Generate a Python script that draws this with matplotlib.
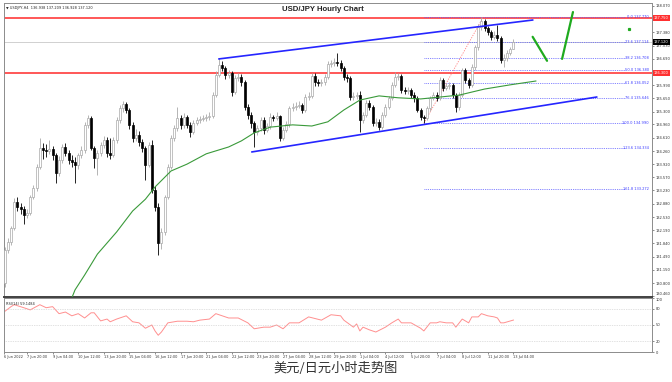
import matplotlib.pyplot as plt

plt.rcParams['font.family'] = ['DejaVu Sans']

# USDJPY H4 bars, 6 Jun 2022 16:00 .. 13 Jul 2022 04:00 (one value per bar)
closes = [
    131.67, 131.88, 132.24, 132.93, 132.80, 132.74, 132.59, 132.64, 133.06, 133.29,
    133.85, 134.34, 134.29, 134.27, 134.32, 134.16, 133.69, 134.03, 134.37, 134.21,
    134.03, 133.98, 133.90, 134.16, 134.29, 134.95, 135.13, 134.34, 134.08, 134.21,
    134.42, 134.55, 134.21, 134.16, 134.55, 135.08, 135.39, 135.50, 135.34, 134.95,
    134.61, 134.69, 134.50, 134.34, 133.90, 134.42, 133.24, 132.80, 131.85, 132.14,
    133.06, 133.85, 134.61, 134.87, 135.13, 134.95, 135.16, 134.95, 134.76, 135.00,
    135.08, 135.10, 135.13, 135.16, 135.18, 135.73, 136.26, 136.52, 136.44, 136.26,
    136.31, 135.81, 136.18, 136.21, 136.08, 135.42, 135.21, 135.00, 134.76, 134.87,
    135.08, 134.82, 134.92, 135.16, 135.14, 135.18, 134.61, 134.82, 134.97, 135.39,
    135.42, 135.45, 135.47, 135.34, 135.68, 135.70, 136.23, 136.08, 136.05, 136.08,
    136.21, 136.55, 136.57, 136.60, 136.57, 136.44, 136.21, 136.18, 135.68, 135.71,
    135.73, 135.08, 135.21, 135.52, 135.42, 135.00, 135.03, 134.89, 135.21, 135.42,
    135.66, 136.00, 136.21, 136.23, 135.87, 135.84, 135.87, 135.73, 135.66, 135.34,
    135.16, 135.13, 135.39, 135.66, 135.73, 135.66, 136.13, 135.92, 135.97, 136.00,
    135.73, 135.42, 135.73, 136.39, 136.13, 136.00, 136.47, 136.99, 137.52, 137.68,
    137.49, 137.39, 137.26, 137.31, 137.23, 136.65, 136.71, 136.84, 136.938, 137.120,
]
highs = [
    131.75, 131.98, 132.30, 133.02, 133.05, 132.90, 132.82, 132.75, 133.12, 133.38,
    133.92, 134.61, 134.48, 134.45, 134.56, 134.40, 134.22, 134.12, 134.45, 134.48,
    134.30, 134.15, 134.10, 134.22, 134.40, 135.02, 135.21, 135.17, 134.40, 134.30,
    134.50, 134.66, 134.62, 134.60, 134.62, 135.15, 135.48, 135.58, 135.55, 135.40,
    135.02, 134.85, 134.78, 134.58, 134.40, 134.50, 134.55, 133.35, 132.90, 132.25,
    133.12, 133.92, 134.68, 134.95, 135.42, 135.22, 135.25, 135.22, 135.02, 135.08,
    135.15, 135.18, 135.20, 135.24, 135.30, 135.80, 136.35, 136.71, 136.62, 136.50,
    136.40, 136.36, 136.25, 136.30, 136.28, 136.12, 135.50, 135.28, 135.05, 134.95,
    135.15, 135.15, 135.00, 135.25, 135.22, 135.28, 135.22, 134.90, 135.05, 135.45,
    135.52, 135.55, 135.58, 135.52, 135.75, 135.80, 136.30, 136.30, 136.15, 136.16,
    136.28, 136.62, 136.66, 136.70, 136.84, 136.65, 136.50, 136.28, 136.22, 135.80,
    135.82, 135.85, 135.30, 135.60, 135.60, 135.48, 135.12, 135.10, 135.28, 135.50,
    135.72, 136.08, 136.34, 136.32, 136.28, 135.95, 135.95, 135.92, 135.80, 135.72,
    135.40, 135.22, 135.45, 135.72, 135.82, 135.80, 136.20, 136.18, 136.05, 136.08,
    136.05, 135.78, 135.80, 136.45, 136.45, 136.18, 136.55, 137.05, 137.60, 137.78,
    137.72, 137.55, 137.45, 137.40, 137.57, 137.28, 136.80, 136.92, 137.00, 137.209,
]
lows = [
    130.70, 131.60, 131.80, 132.18, 132.70, 132.62, 132.35, 132.50, 132.58, 133.00,
    133.22, 133.80, 134.05, 134.10, 134.18, 134.02, 133.43, 133.62, 133.95, 134.12,
    133.92, 133.85, 133.43, 133.80, 134.08, 134.22, 134.88, 134.28, 133.82, 133.64,
    134.12, 134.35, 134.10, 134.05, 134.10, 134.48, 135.00, 135.30, 135.25, 134.85,
    134.50, 134.52, 134.40, 134.25, 133.50, 133.85, 133.15, 132.70, 131.54, 131.70,
    132.05, 133.00, 133.78, 134.52, 134.80, 134.85, 134.88, 134.88, 134.62, 134.70,
    134.95, 135.00, 135.05, 135.06, 135.08, 135.12, 135.68, 136.20, 136.35, 136.15,
    136.18, 135.72, 135.75, 136.10, 135.98, 135.35, 135.10, 134.87, 134.37, 134.68,
    134.80, 134.72, 134.75, 134.85, 135.05, 135.08, 134.52, 134.55, 134.75, 134.90,
    135.32, 135.35, 135.38, 135.25, 135.28, 135.60, 135.65, 135.98, 135.96, 135.98,
    136.00, 136.15, 136.48, 136.50, 136.50, 136.35, 136.12, 136.08, 135.60, 135.60,
    135.62, 134.76, 135.00, 135.15, 135.35, 134.92, 134.92, 134.82, 134.85, 135.15,
    135.36, 135.60, 135.95, 136.12, 135.78, 135.75, 135.76, 135.65, 135.55, 135.28,
    135.08, 135.00, 135.08, 135.32, 135.60, 135.58, 135.60, 135.85, 135.86, 135.90,
    135.65, 135.29, 135.35, 135.68, 136.05, 135.92, 135.95, 136.40, 136.92, 137.45,
    137.40, 137.30, 137.18, 137.20, 137.15, 136.58, 136.47, 136.62, 136.78, 136.928,
]
first_open = 130.80
opens = [first_open] + closes[:-1]

# green moving average (shifted forward)
ma_bars = [21, 22, 25, 29, 35, 40, 44, 47, 52, 57, 63, 70, 74, 78, 83, 90, 96,
           101, 106, 111, 117, 123, 130, 136, 142, 150, 158, 166]
ma_values = [130.41, 130.62, 131.01, 131.56, 132.14, 132.69, 133.00, 133.32, 133.74,
             133.92, 134.19, 134.37, 134.53, 134.74, 134.89, 134.95, 134.92, 135.03,
             135.34, 135.60, 135.71, 135.66, 135.63, 135.68, 135.73, 135.89, 136.00, 136.10]

# RSI(14)
rsi_bars = [0, 2, 3, 6, 8, 11, 13, 15, 17, 19, 21, 23, 25, 27, 28, 30, 32, 33, 35, 38,
            40, 42, 44, 46, 47, 48, 49, 51, 54, 57, 59, 61, 64, 66, 68, 70, 73, 76, 78,
            81, 83, 85, 87, 89, 92, 95, 99, 102, 105, 106, 109, 110, 111, 112, 114, 116,
            119, 121, 123, 124, 127, 130, 131, 133, 135, 136, 138, 140, 141, 143, 145,
            146, 148, 149, 151, 153, 154, 155, 156, 159]
rsi_values = [75, 84, 87.6, 82, 78, 87.6, 82, 84, 71, 74, 67, 71, 63, 72.6, 72.6, 57.6,
              61, 56, 61, 67, 56, 54, 44, 50, 39, 31, 37, 54, 57, 57, 56, 59, 61, 71, 67,
              63, 63, 54, 43, 46, 46, 50, 43, 54, 54, 65, 59, 69, 67, 59, 46, 52, 39, 46,
              41, 37, 46, 54, 61, 54, 54, 44, 39, 54, 54, 56, 54, 54, 46, 61, 54, 65, 65,
              71, 67, 65, 63, 54, 54, 59.15]
rsi_levels = [20, 50, 80]

# drawn objects
upper_channel_bars = [67, 165]
upper_channel_prices = [136.68, 137.70]
lower_channel_bars = [77.3, 185]
lower_channel_prices = [134.24, 135.68]
resistance = 137.75
support = 136.30
last_price = 137.12
fib_high, fib_low = 137.77, 134.99
fib_high_bar, fib_low_bar = 149.5, 131
fib_levels = [0.0, 23.6, 38.2, 50.0, 61.8, 76.4, 100.0, 123.6, 161.8]
proj_down_bars = [165, 169.5]
proj_down_prices = [137.26, 136.63]
proj_up_bars = [174.2, 177.6]
proj_up_prices = [136.68, 137.91]
dot_bar, dot_price = 195, 137.47

# axis labels (137.720 and 136.340 sit under the coloured price boxes)
price_ticks = [130.460, 130.800, 131.150, 131.490, 131.840, 132.190, 132.530, 132.880,
               133.230, 133.570, 133.920, 134.260, 134.610, 134.960, 135.300, 135.650,
               135.990, 136.690, 137.030, 137.380, 138.070]
date_ticks = [-0.3, 7, 15, 23, 31, 39, 47, 55, 63, 71, 79, 87, 95, 103, 111, 119, 127,
              135, 143, 151, 159]
date_labels = ["6 Jun 2022", "7 Jun 20:00", "9 Jun 04:00", "10 Jun 12:00", "13 Jun 20:00",
               "15 Jun 04:00", "16 Jun 12:00", "17 Jun 20:00", "21 Jun 04:00",
               "22 Jun 12:00", "23 Jun 20:00", "27 Jun 04:00", "28 Jun 12:00",
               "29 Jun 20:00", "1 Jul 04:00", "4 Jul 12:00", "5 Jul 20:00", "7 Jul 04:00",
               "8 Jul 12:00", "11 Jul 20:00", "13 Jul 04:00"]

W, H = 672, 382
fig = plt.figure(figsize=(W / 100, H / 100), dpi=100)
ax = fig.add_axes([3.5 / W, 1 - 297 / H, 648.5 / W, 294.5 / H])
rax = fig.add_axes([3.5 / W, 1 - 352 / H, 648.5 / W, 54 / H], sharex=ax)

xlim = (-0.35, 202.3)
ax.set_xlim(*xlim)
ax.set_ylim(130.434, 138.16)

# candles
idx = list(range(len(closes)))
up = [c >= o for o, c in zip(opens, closes)]
wick_cols = ['#a8a8a8' if u else '#000000' for u in up]
ax.vlines(idx, lows, highs, colors=wick_cols, lw=0.6, zorder=3)
bottoms = [min(o, c) for o, c in zip(opens, closes)]
heights = [max(abs(c - o), 0.012) for o, c in zip(opens, closes)]
ax.bar(idx, heights, bottom=bottoms, width=0.62,
       color=['white' if u else 'black' for u in up],
       edgecolor=['#a8a8a8' if u else 'black' for u in up], lw=0.5, zorder=4)

# levels
ax.axhline(last_price, color='#d0d0d0', lw=0.7, zorder=1)
ax.axhline(resistance, color='#ff3b3b', lw=1.2, zorder=2)
ax.axhline(support, color='#ff3b3b', lw=1.2, zorder=2)

# fibonacci
fib_range = fib_high - fib_low
fib_prices = [fib_high - lvl / 100 * fib_range for lvl in fib_levels]
ax.hlines(fib_prices, fib_low_bar, 194, colors='#5a5aff', linestyles=(0, (1, 1.2)),
          lw=0.6, zorder=2)
for lvl, p in zip(fib_levels, fib_prices):
    ax.text(201.3, p, f"{lvl:.1f} {p:.3f}", ha='right', va='center', fontsize=2.6,
            color='#3c3cff', zorder=5)
ax.plot([fib_low_bar, fib_high_bar], [fib_low, fib_high], color='#ff8080',
        ls=(0, (1.5, 1.5)), lw=0.6, zorder=2)

# channel, MA and projection
ax.plot(upper_channel_bars, upper_channel_prices, color='#2525ff', lw=1.2, zorder=5)
ax.plot(lower_channel_bars, lower_channel_prices, color='#2525ff', lw=1.2, zorder=5)
ax.plot(ma_bars, ma_values, color='#3a9a3a', lw=0.8, zorder=5)
ax.plot(proj_down_bars, proj_down_prices, color='#1faa1f', lw=1.6, zorder=5,
        solid_capstyle='round')
ax.plot(proj_up_bars, proj_up_prices, color='#1faa1f', lw=1.6, zorder=5,
        solid_capstyle='round')
ax.plot([dot_bar], [dot_price], 's', color='#1faa1f', ms=1.3, zorder=5)

# axes styling
for a in (ax, rax):
    for s in a.spines.values():
        s.set_color('#8c8c8c')
        s.set_linewidth(0.7)
ax.spines['bottom'].set_color('#404040')
ax.spines['bottom'].set_linewidth(1.4)
ax.yaxis.tick_right()
ax.set_yticks(price_ticks)
ax.set_yticklabels([f"{t:.3f}" for t in price_ticks])
ax.tick_params(axis='y', labelsize=2.6, length=1.5, width=0.4, pad=1,
               colors='#333333')
ax.tick_params(axis='x', bottom=False, labelbottom=False)
ax.get_yticklabels()[0].set_va('bottom')

boxes = [(resistance, '#ff3030', 'white'), (support, '#ff3030', 'white'),
         (last_price, '#000000', 'white')]
for p, bg, fg in boxes:
    ax.text(1.003, p, f"{p:.3f}", transform=ax.get_yaxis_transform(), fontsize=2.6,
            color=fg, va='center', ha='left', clip_on=False,
            bbox=dict(boxstyle='square,pad=0.25', fc=bg, ec='none'))

ax.text(0.4927, 0.975, "USD/JPY Hourly Chart", transform=ax.transAxes, ha='center',
        va='center', fontsize=5.6, fontweight='bold', family=['Liberation Sans'],
        color='#222222')
ax.text(0.004, 0.988, "\u25bc USDJPY,H4  136.938 137.209 136.928 137.120",
        transform=ax.transAxes, ha='left', va='top', fontsize=2.5, color='#222222')

# RSI panel
rax.plot(rsi_bars, rsi_values, color='#ff8f8f', lw=0.7)
rax.set_ylim(0, 100)
for lv in rsi_levels:
    rax.axhline(lv, color='#c4c4c4', ls=(0, (1, 1.5)), lw=0.5)
rax.yaxis.tick_right()
rax.set_yticks([0, 20, 50, 80, 100])
rax.tick_params(axis='y', labelsize=2.6, length=1.5, width=0.4, pad=1,
                colors='#333333')
rax.get_yticklabels()[-1].set_va('top')
rax.set_xticks(date_ticks)
rax.set_xticklabels(date_labels, ha='left')
rax.tick_params(axis='x', labelsize=2.5, length=1.5, width=0.4, pad=1,
                colors='#333333')
rax.text(0.004, 0.93, "RSI(14) 59.1484", transform=rax.transAxes, ha='left',
         va='top', fontsize=2.5, color='#222222')
rax.set_xlim(*xlim)

fig.text(336 / W, 1 - 369 / H, "美元/日元小时走势图", ha='center', va='center',
         fontsize=9.5, family=['Noto Sans CJK SC', 'DejaVu Sans'], color='#333333')

fig.savefig('out.png', dpi=100)
